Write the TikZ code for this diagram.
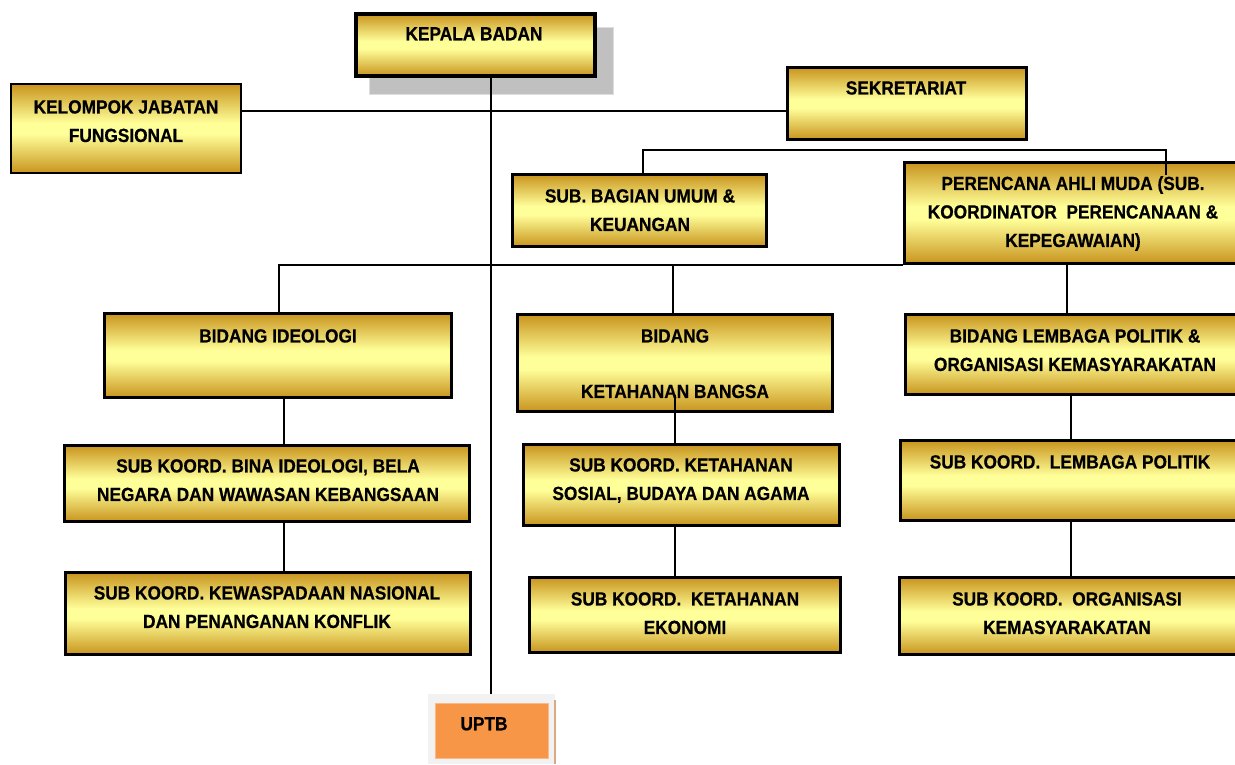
\documentclass[tikz,border=0pt]{standalone}
\usepackage{fontspec}
\setmainfont{Liberation Sans}[FakeStretch=0.91,FakeBold=0.6]
\definecolor{gd}{RGB}{200,148,30}
\definecolor{ly}{RGB}{255,255,153}
\definecolor{shadowgray}{RGB}{192,192,192}
\definecolor{shadowedge}{RGB}{222,222,222}
\definecolor{uptbbg}{RGB}{242,242,242}
\definecolor{orangef}{RGB}{247,150,70}
\definecolor{orangee}{RGB}{250,185,135}
\definecolor{tan}{RGB}{214,170,130}
\pgfdeclareverticalshading{goldbox}{100bp}{color(0bp)=(gd); color(25bp)=(gd); color(47bp)=(ly); color(53bp)=(ly); color(75bp)=(gd); color(100bp)=(gd)}
\begin{document}
\begin{tikzpicture}[x=1pt,y=-1pt,
  gbox/.style={draw=black, line width=3.5pt, shading=goldbox, inner sep=0pt},
  txt/.style={anchor=north, align=center, inner sep=0pt, font=\bfseries\fontsize{19}{28.5}\selectfont},
  conn/.style={draw=black, line width=1.8pt}]
\useasboundingbox (0,0) rectangle (1235,764);
% shadow of top box
\node[draw=shadowedge, line width=1pt, fill=shadowgray, minimum width=244pt, minimum height=67pt, inner sep=0pt] (kbshadow) at (491,60.5) {};
% UPTB background
\node[fill=uptbbg, minimum width=127pt, minimum height=70pt, inner sep=0pt] (uptbbg) at (491.5,729) {};
% boxes
\node[gbox, line width=4pt, minimum width=239pt, minimum height=62pt] (kb) at (475.5,45) {};
\node[gbox, line width=2.2pt, minimum width=230pt, minimum height=89pt] (kjf) at (126,128.5) {};
\node[gbox, minimum width=239pt, minimum height=72pt] (sek) at (907,103.5) {};
\node[gbox, minimum width=254pt, minimum height=72pt] (sbu) at (639.5,210.5) {};
\node[gbox, minimum width=337pt, minimum height=101pt] (per) at (1073,213) {};
\node[gbox, minimum width=347pt, minimum height=84pt] (bid1) at (278,355.5) {};
\node[gbox, minimum width=315pt, minimum height=97pt] (bid2) at (675,363) {};
\node[gbox, minimum width=339pt, minimum height=80pt] (bid3) at (1075,354.5) {};
\node[gbox, minimum width=405pt, minimum height=76pt] (s11) at (267,483.5) {};
\node[gbox, minimum width=316pt, minimum height=81pt] (s21) at (681.5,485) {};
\node[gbox, minimum width=339pt, minimum height=80pt] (s31) at (1070,480.5) {};
\node[gbox, minimum width=405pt, minimum height=82pt] (s12) at (268,613.5) {};
\node[gbox, minimum width=311pt, minimum height=75pt] (s22) at (685,615) {};
\node[gbox, minimum width=337pt, minimum height=77pt] (s32) at (1068,616) {};
\node[draw=orangee, line width=0.8pt, fill=orangef, minimum width=113pt, minimum height=55pt, inner sep=0pt] (uptb) at (491.5,730.5) {};
\coordinate (tanA) at (555,700);
\draw[draw=tan, line width=1.5pt] (tanA) -- (tanA |- uptbbg.south);
% texts
\node[txt] (tkb) at (474,27) {KEPALA BADAN};
\node[txt] (tkjf) at (126,100) {KELOMPOK JABATAN\\FUNGSIONAL};
\node[txt] (tsek) at (906,81) {SEKRETARIAT};
\node[txt] (tsbu) at (640,189) {SUB. BAGIAN UMUM \&\\KEUANGAN};
\node[txt] (tper) at (1073,176) {PERENCANA AHLI MUDA (SUB.\\KOORDINATOR\ \ PERENCANAAN \&\\KEPEGAWAIAN)};
\node[txt] (tbid1) at (278,329) {BIDANG IDEOLOGI};
\node[txt] (tbid2) at (675,329) {BIDANG\\[27pt]KETAHANAN BANGSA};
\node[txt] (tbid3) at (1075,329) {BIDANG LEMBAGA POLITIK \&\\ORGANISASI KEMASYARAKATAN};
\node[txt] (ts11) at (268,459) {SUB KOORD. BINA IDEOLOGI, BELA\\NEGARA DAN WAWASAN KEBANGSAAN};
\node[txt] (ts21) at (681,458) {SUB KOORD. KETAHANAN\\SOSIAL, BUDAYA DAN AGAMA};
\node[txt] (ts31) at (1070,455) {SUB KOORD.\ \ LEMBAGA POLITIK};
\node[txt] (ts12) at (267,586) {SUB KOORD. KEWASPADAAN NASIONAL\\DAN PENANGANAN KONFLIK};
\node[txt] (ts22) at (685,592) {SUB KOORD.\ \ KETAHANAN\\EKONOMI};
\node[txt] (ts32) at (1067,592) {SUB KOORD.\ \ ORGANISASI\\KEMASYARAKATAN};
\node[txt] (tuptb) at (484,717) {UPTB};
% connectors
\coordinate (trunk) at (491,0);
\draw[conn] (kb.south -| trunk) -- (uptbbg.north -| trunk);
\coordinate (j1) at (0,111);
\draw[conn] (kjf.east |- j1) -- (sek.west |- j1);
\coordinate (s1) at (643,150);
\coordinate (s2) at (1166,150);
\coordinate (s3) at (1166,175);
\draw[conn] (sbu.north -| s1) -- (s1) -- (s2) -- (s3);
\coordinate (c1) at (279,0);
\draw[conn] (bid1.north -| c1) |- (per.south west);
\coordinate (c2) at (673,0);
\draw[conn] (bid2.north -| c2) -- (per.south -| c2);
\coordinate (c3) at (1067,0);
\draw[conn] (per.south -| c3) -- (bid3.north -| c3);
\coordinate (d1) at (284,0);
\draw[conn] (bid1.south -| d1) -- (s11.north -| d1);
\draw[conn] (s11.south -| d1) -- (s12.north -| d1);
\coordinate (d2) at (675,395);
\draw[conn] (d2) -- (s21.north -| d2);
\draw[conn] (s21.south -| d2) -- (s22.north -| d2);
\coordinate (d3) at (1071,0);
\draw[conn] (bid3.south -| d3) -- (s31.north -| d3);
\draw[conn] (s31.south -| d3) -- (s32.north -| d3);
\end{tikzpicture}
\end{document}
